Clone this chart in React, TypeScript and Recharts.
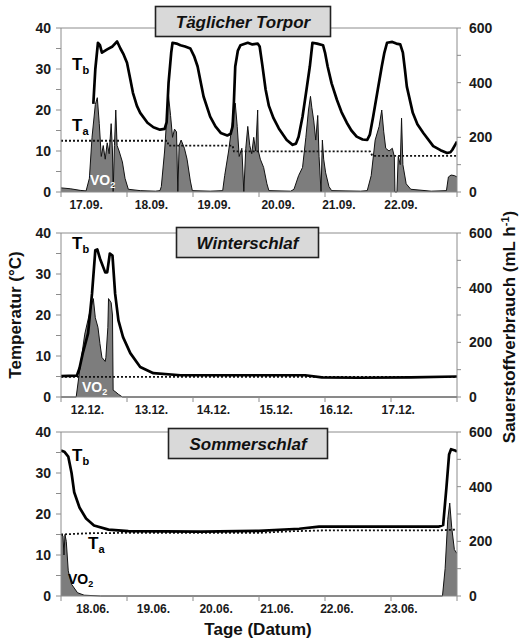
import React from 'react';
import { ComposedChart, Line, Area, XAxis, YAxis, ReferenceLine } from 'recharts';

// ---------- tick values / labels ----------
const dayTicks = [0, 1, 2, 3, 4, 5, 6];
const tempTicks = [0, 5, 10, 15, 20, 25, 30, 35, 40];
const vo2Ticks = [0, 100, 200, 300, 400, 500, 600];

const torporLabels = ['17.09.', '18.09.', '19.09.', '20.09.', '21.09.', '22.09.'];
const torporLabelDays = [0.38, 1.37, 2.32, 3.29, 4.21, 5.15];
const winterLabels = ['12.12.', '13.12.', '14.12.', '15.12.', '16.12.', '17.12.'];
const winterLabelDays = [0.4, 1.37, 2.31, 3.26, 4.17, 5.11];
const summerLabels = ['18.06.', '19.06.', '20.06.', '21.06.', '22.06.', '23.06.'];
const summerLabelDays = [0.48, 1.4, 2.35, 3.27, 4.18, 5.15];

// ---------- Täglicher Torpor ----------
const torporTb: [number, number][] = [
  [0.49, 21.5], [0.52, 30], [0.56, 36.4], [0.59, 35.8], [0.62, 34], [0.7, 34.8], [0.78, 35.5], [0.85, 36.7],
  [0.9, 35], [0.95, 33.5], [1.0, 31.5], [1.05, 27.5], [1.09, 24.2], [1.15, 21], [1.2, 19.3], [1.31, 16.9],
  [1.4, 15.8], [1.5, 15.2], [1.57, 15.4], [1.6, 17], [1.63, 26.7], [1.67, 34], [1.69, 36.4], [1.75, 36.2],
  [1.81, 35.8], [1.88, 35.5], [1.96, 35], [2.02, 33], [2.07, 30.6], [2.12, 26.5], [2.16, 23.3], [2.26, 18.4],
  [2.34, 16], [2.42, 14.4], [2.52, 13.8], [2.57, 14.2], [2.6, 16], [2.62, 22], [2.64, 30.6], [2.68, 34.5],
  [2.72, 35.8], [2.83, 36.4], [2.9, 36], [2.98, 36.2], [3.01, 35.5], [3.05, 31], [3.1, 25], [3.15, 21],
  [3.22, 18], [3.3, 15.5], [3.42, 12.7], [3.51, 11.5], [3.56, 11.8], [3.6, 13.5], [3.66, 18.4], [3.72, 25],
  [3.77, 30.6], [3.81, 36.4], [3.88, 36.2], [3.97, 35.8], [4.0, 34], [4.04, 30.6], [4.1, 26.5], [4.18, 22.5],
  [4.25, 19.5], [4.33, 16.9], [4.4, 15], [4.48, 13.5], [4.57, 12.8], [4.64, 12.7], [4.68, 14], [4.73, 18.4],
  [4.8, 25], [4.86, 30.6], [4.9, 34], [4.94, 36.4], [5.02, 36.6], [5.08, 36.2], [5.14, 36], [5.18, 34],
  [5.21, 30], [5.24, 25.7], [5.33, 19.3], [5.4, 16.5], [5.49, 14.4], [5.64, 11.2], [5.75, 10.2], [5.85, 9.5],
  [5.9, 9.7], [5.93, 10.3], [6.0, 12.3],
];
const torporTa: [number, number][] = [
  [0, 12.5], [1.61, 12.5], [1.63, 11.3], [2.6, 11.3], [2.62, 9.9], [4.68, 9.9], [4.72, 8.8], [6, 8.8],
];
const torporVo2: [number, number][] = [
  [0, 15], [0.14, 12], [0.29, 6], [0.38, 4], [0.43, 50], [0.47, 200], [0.52, 320], [0.55, 345], [0.58, 250],
  [0.61, 130], [0.64, 170], [0.67, 120], [0.7, 180], [0.73, 140], [0.76, 250], [0.78, 150], [0.79, 0],
  [0.81, 170], [0.83, 300], [0.85, 170], [0.88, 150], [0.93, 110], [0.97, 50], [1.02, 10], [1.2, 5],
  [1.43, 3], [1.5, 5], [1.52, 20], [1.57, 150], [1.61, 300], [1.63, 350], [1.66, 280], [1.69, 200],
  [1.72, 230], [1.75, 220], [1.77, 0], [1.79, 170], [1.82, 190], [1.87, 160], [1.91, 120], [1.96, 40],
  [1.99, 5], [2.26, 3], [2.45, 5], [2.48, 60], [2.54, 150], [2.6, 260], [2.64, 325], [2.67, 240],
  [2.7, 130], [2.74, 160], [2.77, 0], [2.8, 160], [2.83, 240], [2.86, 170], [2.89, 140], [2.92, 200],
  [2.95, 150], [2.98, 300], [2.99, 150], [3.02, 120], [3.07, 90], [3.12, 30], [3.15, 5], [3.48, 3],
  [3.53, 10], [3.6, 60], [3.66, 90], [3.71, 200], [3.75, 300], [3.78, 350], [3.8, 310], [3.83, 260],
  [3.86, 190], [3.89, 280], [3.91, 130], [3.94, 0], [3.96, 190], [3.98, 120], [4.01, 70], [4.06, 20],
  [4.1, 5], [4.54, 3], [4.64, 5], [4.7, 60], [4.76, 190], [4.82, 240], [4.86, 300], [4.89, 220],
  [4.92, 160], [4.97, 150], [5.02, 160], [5.05, 130], [5.06, 0], [5.09, 0], [5.11, 130], [5.14, 100],
  [5.16, 270], [5.18, 100], [5.23, 30], [5.3, 10], [5.61, 3], [5.84, 5], [5.87, 55], [5.91, 62],
  [5.96, 60], [6.0, 55],
];

// ---------- Winterschlaf ----------
const winterTb: [number, number][] = [
  [0, 5.1], [0.24, 5.2], [0.28, 7], [0.33, 10.7], [0.41, 15.5], [0.47, 25.2], [0.52, 35.8], [0.55, 36],
  [0.59, 33.8], [0.67, 30.4], [0.7, 30.4], [0.74, 35], [0.78, 34.5], [0.82, 25.2], [0.87, 18.7],
  [0.94, 14.6], [1.05, 10.7], [1.2, 7.3], [1.4, 5.8], [1.81, 5.3], [3.7, 5.3], [3.95, 4.8], [4.5, 4.7],
  [5.3, 4.8], [6, 5.0],
];
const winterTa: [number, number][] = [[0, 4.9], [6, 4.9]];
const winterVo2: [number, number][] = [
  [0, 0], [0.23, 0], [0.29, 110], [0.36, 230], [0.44, 315], [0.49, 360], [0.52, 290], [0.56, 255],
  [0.59, 195], [0.62, 145], [0.67, 130], [0.68, 145], [0.71, 255], [0.72, 360], [0.76, 345], [0.78, 300],
  [0.79, 25], [0.82, 20], [0.87, 10], [0.93, 0], [6, 0],
];

// ---------- Sommerschlaf ----------
const summerTb: [number, number][] = [
  [0, 35.5], [0.05, 35.2], [0.11, 34], [0.16, 30], [0.2, 25.3], [0.28, 21.6], [0.38, 18.9], [0.5, 17.2],
  [0.72, 16.2], [1.02, 15.8], [2.12, 15.7], [3.0, 15.9], [3.61, 16.4], [3.91, 16.9], [5.72, 16.9],
  [5.79, 17.3], [5.84, 26.5], [5.88, 34.5], [5.91, 35.8], [5.97, 35.5], [6, 35.2],
];
const summerTa: [number, number][] = [
  [0, 15.0], [0.4, 15.3], [1, 15.4], [3, 15.4], [3.5, 15.8], [4, 16.0], [5.7, 16.0], [6, 16.2],
];
const summerVo2: [number, number][] = [
  [0, 225], [0.03, 220], [0.045, 150], [0.06, 225], [0.08, 200], [0.11, 92], [0.16, 43], [0.25, 12],
  [0.35, 3], [0.6, 0], [5.78, 0], [5.82, 100], [5.86, 280], [5.89, 340], [5.92, 250], [5.96, 170], [6, 155],
];

// ---------- drawing ----------
const FONT = 'Liberation Sans, Arial, Helvetica, sans-serif';
const AXIS = '#8c8c8c';
const INK = '#1a1a1a';
const PX_PER_DAY = 396 / 6;

const rows = (a: [number, number][]) => a.map(([d, v]) => ({ d, v }));

const LeftTick = (p: any) => {
  const v = p.payload.value;
  if (v % 10 !== 0) return <g />;
  return (
    <text x={p.x} y={p.y} dy={5} textAnchor="end" fontSize={14} fontWeight="bold" fill={INK} fontFamily={FONT}>
      {v}
    </text>
  );
};

const RightTick = (p: any) => {
  const v = p.payload.value;
  if (v % 200 !== 0) return <g />;
  return (
    <text x={p.x} y={p.y} dy={5} textAnchor="start" fontSize={14} fontWeight="bold" fill={INK} fontFamily={FONT}>
      {v}
    </text>
  );
};

const makeXTick = (labels: string[], labelDays: number[]) => (p: any) => {
  const v = p.payload.value;
  const i = dayTicks.indexOf(v);
  if (i < 0 || i >= labels.length) return <g />;
  return (
    <text
      x={p.x + (labelDays[i] - v) * PX_PER_DAY}
      y={p.y}
      dy="0.71em"
      textAnchor="middle"
      fontSize={12}
      fontWeight="bold"
      fill={INK}
      fontFamily={FONT}
    >
      {labels[i]}
    </text>
  );
};

function Panel(props: {
  top: number;
  tb: [number, number][];
  ta: [number, number][];
  vo2: [number, number][];
  labels: string[];
  labelDays: number[];
}) {
  const { top, tb, ta, vo2, labels, labelDays } = props;
  return (
    <div style={{ position: 'absolute', left: 0, top, width: 519, height: 220 }}>
      <ComposedChart width={519} height={220} margin={{ top: 28, right: 0, bottom: 0, left: 0 }}>
        <XAxis
          dataKey="d"
          type="number"
          domain={[0, 6]}
          ticks={dayTicks}
          interval={0}
          allowDataOverflow
          height={28}
          tickSize={5}
          tickMargin={3}
          stroke={AXIS}
          tick={makeXTick(labels, labelDays)}
        />
        <YAxis
          yAxisId="t"
          type="number"
          domain={[0, 40]}
          ticks={tempTicks}
          interval={0}
          width={61}
          tickSize={5}
          tickMargin={5}
          stroke={AXIS}
          tick={LeftTick}
        />
        <YAxis
          yAxisId="v"
          orientation="right"
          type="number"
          domain={[0, 600]}
          ticks={vo2Ticks}
          interval={0}
          width={62}
          tickSize={4}
          tickMargin={8}
          stroke={AXIS}
          tick={RightTick}
        />
        <ReferenceLine yAxisId="t" y={40} stroke={AXIS} strokeWidth={1} />
        <Area
          yAxisId="v"
          data={rows(vo2)}
          dataKey="v"
          type="linear"
          fill="#7d7d7d"
          fillOpacity={1}
          stroke="#111"
          strokeWidth={1}
          isAnimationActive={false}
          dot={false}
          activeDot={false}
        />
        <Line
          yAxisId="t"
          data={rows(ta)}
          dataKey="v"
          type="linear"
          stroke="#111"
          strokeWidth={1.8}
          strokeDasharray="2 2"
          dot={false}
          activeDot={false}
          isAnimationActive={false}
        />
        <Line
          yAxisId="t"
          data={rows(tb)}
          dataKey="v"
          type="linear"
          stroke="#000"
          strokeWidth={2.7}
          strokeLinejoin="round"
          dot={false}
          activeDot={false}
          isAnimationActive={false}
        />
      </ComposedChart>
    </div>
  );
}

function TitleBox(props: { x: number; y: number; w: number; h: number; text: string }) {
  const { x, y, w, h, text } = props;
  return (
    <g>
      <rect x={x} y={y} width={w} height={h} fill="#d9d9d9" stroke="#222" strokeWidth={1.6} />
      <text
        x={x + w / 2}
        y={y + h / 2 + 6}
        textAnchor="middle"
        fontSize={17}
        fontWeight="bold"
        fontStyle="italic"
        fill="#111"
        fontFamily={FONT}
      >
        {text}
      </text>
    </g>
  );
}

function TLabel(props: { x: number; y: number; sub: string }) {
  return (
    <text x={props.x} y={props.y} fontSize={17} fontWeight="bold" fill="#000" fontFamily={FONT}>
      T
      <tspan fontSize={11} dy={4}>
        {props.sub}
      </tspan>
    </text>
  );
}

function VoLabel(props: { x: number; y: number; color: string }) {
  return (
    <text x={props.x} y={props.y} fontSize={14} fontWeight="bold" fill={props.color} fontFamily={FONT}>
      VO
      <tspan fontSize={9} dy={3}>
        2
      </tspan>
    </text>
  );
}

export default function App() {
  return (
    <div
      style={{
        position: 'absolute',
        left: 0,
        top: 0,
        width: 519,
        height: 641,
        background: '#fff',
        overflow: 'hidden',
        fontFamily: FONT,
      }}
    >
      <Panel top={0} tb={torporTb} ta={torporTa} vo2={torporVo2} labels={torporLabels} labelDays={torporLabelDays} />
      <Panel top={205} tb={winterTb} ta={winterTa} vo2={winterVo2} labels={winterLabels} labelDays={winterLabelDays} />
      <Panel top={404} tb={summerTb} ta={summerTa} vo2={summerVo2} labels={summerLabels} labelDays={summerLabelDays} />
      <svg
        width={519}
        height={641}
        style={{ position: 'absolute', left: 0, top: 0, pointerEvents: 'none' }}
      >
        <TitleBox x={155.5} y={6.5} w={175} h={30} text="Täglicher Torpor" />
        <TitleBox x={176.5} y={227.5} w={142} h={30} text="Winterschlaf" />
        <TitleBox x={168.5} y={428.5} w={159} h={30} text="Sommerschlaf" />

        <TLabel x={72} y={70} sub="b" />
        <TLabel x={72} y={131} sub="a" />
        <TLabel x={72} y={249} sub="b" />
        <TLabel x={72} y={461} sub="b" />
        <TLabel x={88} y={549} sub="a" />

        <VoLabel x={90} y={185} color="#fff" />
        <VoLabel x={82} y={392} color="#fff" />
        <VoLabel x={68} y={584} color="#000" />

        <text
          transform="translate(21,315) rotate(-90)"
          textAnchor="middle"
          fontSize={17}
          fontWeight="bold"
          fill="#111"
          fontFamily={FONT}
        >
          Temperatur (°C)
        </text>
        <text
          transform="translate(515,327) rotate(-90)"
          textAnchor="middle"
          fontSize={17}
          fontWeight="bold"
          fill="#111"
          fontFamily={FONT}
        >
          Sauerstoffverbrauch (mL h
          <tspan fontSize={11} dy={-6}>
            -1
          </tspan>
          <tspan dy={6}>)</tspan>
        </text>
        <text x={258} y={635} textAnchor="middle" fontSize={17} fontWeight="bold" fill="#111" fontFamily={FONT}>
          Tage (Datum)
        </text>
      </svg>
    </div>
  );
}
